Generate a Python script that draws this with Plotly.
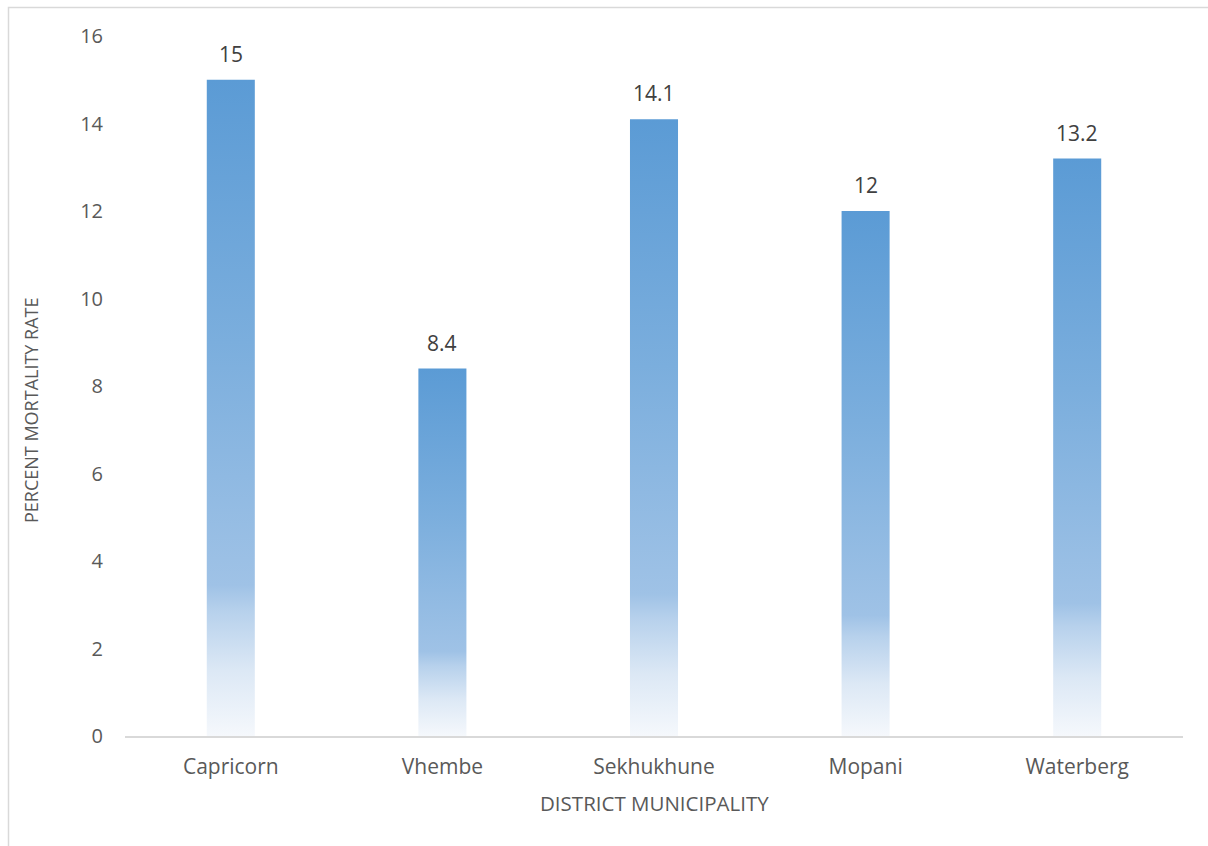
import plotly.graph_objects as go

# District mortality rates
districts = ["Capricorn", "Vhembe", "Sekhukhune", "Mopani", "Waterberg"]
mortality = [15, 8.4, 14.1, 12, 13.2]
y_ticks = [0, 2, 4, 6, 8, 10, 12, 14, 16]

BAR_WIDTH = 0.227
TEXT_GREY = "#595959"
LABEL_GREY = "#404040"
FONT = "Open Sans"

# vertical gradient: pale at the base, full blue at the top
gradient = [
    [0.0, "#F5F8FC"],
    [0.10, "#DCE8F5"],
    [0.19, "#B7D1EC"],
    [0.23, "#9FC2E6"],
    [0.60, "#7BAEDD"],
    [1.0, "#5B9BD5"],
]

fig = go.Figure()
for i, (name, v) in enumerate(zip(districts, mortality)):
    x0, x1 = i - BAR_WIDTH / 2, i + BAR_WIDTH / 2
    fig.add_trace(go.Scatter(
        x=[x0, x1, x1, x0, x0],
        y=[0, 0, v, v, 0],
        mode="lines",
        fill="toself",
        line=dict(width=0),
        fillgradient=dict(type="vertical", colorscale=gradient, start=0, stop=v),
        name=name,
        hoverinfo="skip",
        showlegend=False,
    ))
    fig.add_annotation(
        x=i, y=v, text=f"{v:g}", showarrow=False,
        yanchor="bottom", yshift=10,
        font=dict(family=FONT, size=21, color=LABEL_GREY),
    )

PLOT_L, PLOT_R, PLOT_T, PLOT_B = 125, 1183, 36, 736
W, H = 1208, 846
pw, ph = PLOT_R - PLOT_L, PLOT_B - PLOT_T


def px_x(px):
    return (px - PLOT_L) / pw


def px_y(py):
    return (PLOT_B - py) / ph


fig.add_annotation(
    xref="paper", yref="paper", x=px_x(654), y=px_y(803),
    text="DISTRICT MUNICIPALITY", showarrow=False,
    xanchor="center", yanchor="middle",
    font=dict(family=FONT, size=20.5, color=TEXT_GREY),
)
fig.add_annotation(
    xref="paper", yref="paper", x=px_x(31), y=px_y(410),
    text="PERCENT MORTALITY RATE", showarrow=False, textangle=-90,
    xanchor="center", yanchor="middle",
    font=dict(family=FONT, size=18, color=TEXT_GREY),
)

# outer chart frame
fig.add_shape(
    type="rect", xref="paper", yref="paper",
    x0=px_x(8.5), y0=px_y(900), x1=px_x(1300), y1=px_y(7.5),
    line=dict(color="#D9D9D9", width=1.5), fillcolor="rgba(0,0,0,0)",
    layer="below",
)

fig.update_layout(
    width=W, height=H,
    margin=dict(l=PLOT_L, r=W - PLOT_R, t=PLOT_T, b=H - PLOT_B),
    paper_bgcolor="white", plot_bgcolor="white",
    font=dict(family=FONT, color=TEXT_GREY, size=20),
    xaxis=dict(
        range=[-0.5, 4.5], tickvals=list(range(len(districts))), ticktext=districts,
        showgrid=False, zeroline=False, showline=True, linecolor="#D9D9D9",
        linewidth=1.5, ticks="", tickfont=dict(size=21, color=TEXT_GREY),
        ticklabelstandoff=11,
    ),
    yaxis=dict(
        range=[0, 16], tickvals=y_ticks, showgrid=False, zeroline=False,
        showline=False, ticks="", tickfont=dict(size=20, color=TEXT_GREY),
        ticklabelstandoff=21,
    ),
)

fig.write_html("out.html")
